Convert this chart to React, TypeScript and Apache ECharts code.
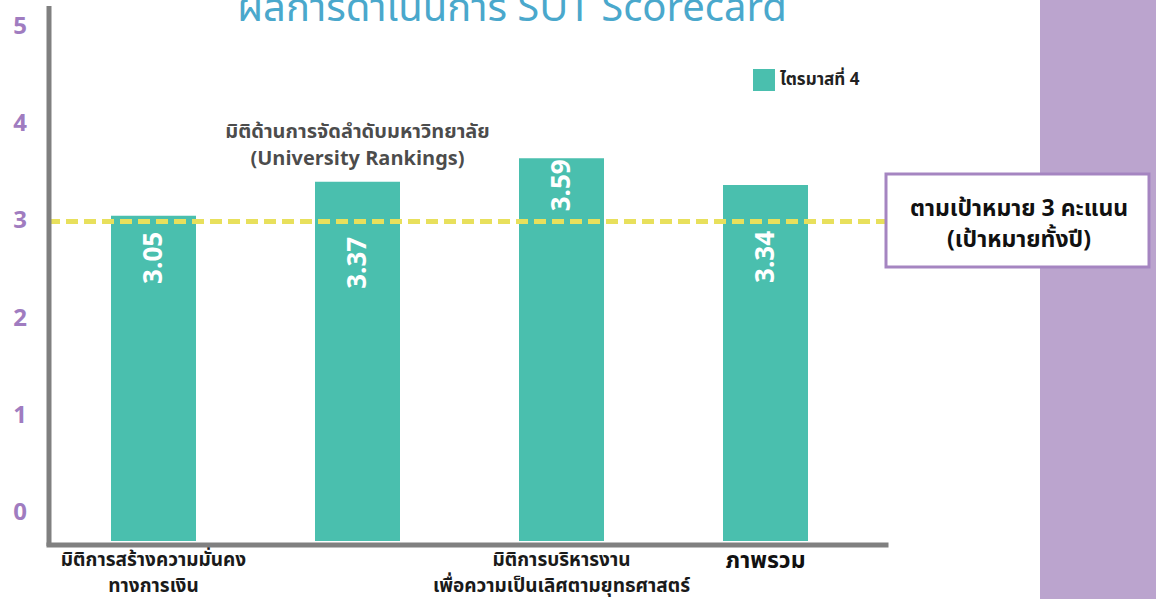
import React, { useEffect, useRef } from "react";
import * as echarts from "echarts";

const categories = [
  "มิติการสร้างความมั่นคง\nทางการเงิน",
  "มิติด้านการจัดลำดับมหาวิทยาลัย\n(University Rankings)",
  "มิติการบริหารงาน\nเพื่อความเป็นเลิศตามยุทธศาสตร์",
  "ภาพรวม",
];
const q4Values = [3.05, 3.37, 3.59, 3.34];
const seriesName = "ไตรมาสที่ 4";
const targetValue = 3;
const yTicks = [0, 1, 2, 3, 4, 5];
const titleText = "ผลการดำเนินการ SUT Scorecard";
const boxLines = ["ตามเป้าหมาย 3 คะแนน", "(เป้าหมายทั้งปี)"];

// layout-only: how far each value label sits below its bar top
const labelDrop = [16, 55, 1, 46];

const FONT = "'Noto Sans Thai', 'Noto Sans', Roboto, sans-serif";
const TEAL = "#4ABFAE";
const PURPLE_TXT = "#A07CC0";

export default function App() {
  const ref = useRef<HTMLDivElement>(null);
  useEffect(() => {
    if (!ref.current) return;
    const chart = echarts.init(ref.current, null, { renderer: "svg" });
    chart.setOption({
      animation: false,
      backgroundColor: "#ffffff",
      textStyle: { fontFamily: FONT },
      legend: {
        data: [seriesName],
        left: 748,
        top: 64,
        icon: "rect",
        itemWidth: 22,
        itemHeight: 22,
        itemGap: 8,
        textStyle: { fontFamily: FONT, fontSize: 17, fontWeight: "bold", color: "#222" },
      },
      grid: [
        { left: 51.5, right: 288.5, top: 8, bottom: 51 },
        { left: 35, width: 10, top: 27, bottom: 86 },
      ],
      xAxis: [
        {
          type: "category",
          gridIndex: 0,
          data: categories,
          axisLine: { show: false },
          axisTick: { show: false },
          axisLabel: {
            margin: 6,
            interval: 0,
            color: "#1a1a1a",
            fontFamily: FONT,
            fontSize: 19,
            fontWeight: "bold",
            lineHeight: 26,
            formatter: (v: string, i: number) => {
              if (i === 1) return "";
              if (i === 3) return "{big|" + v + "}";
              return v;
            },
            rich: {
              big: { fontSize: 23, fontWeight: "bold", color: "#111", fontFamily: FONT, lineHeight: 28 },
            },
          },
        },
        { type: "value", gridIndex: 1, show: false, min: 0, max: 1 },
      ],
      yAxis: [
        { type: "value", gridIndex: 0, min: 0, max: 5, show: false },
        {
          type: "value",
          gridIndex: 1,
          min: yTicks[0],
          max: yTicks[yTicks.length - 1],
          interval: 1,
          axisLine: { show: false },
          axisTick: { show: false },
          splitLine: { show: false },
          axisLabel: {
            margin: 8,
            color: PURPLE_TXT,
            fontFamily: FONT,
            fontSize: 24,
            fontWeight: "bold",
          },
        },
      ],
      series: [
        {
          name: seriesName,
          type: "bar",
          xAxisIndex: 0,
          yAxisIndex: 0,
          barWidth: 85,
          itemStyle: { color: TEAL },
          data: q4Values.map((v, i) => ({
            value: v,
            label: { distance: labelDrop[i] },
          })),
          label: {
            show: true,
            position: "insideTop",
            rotate: 90,
            align: "right",
            verticalAlign: "middle",
            color: "#ffffff",
            fontFamily: FONT,
            fontSize: 26,
            fontWeight: "bold",
            formatter: (p: any) => p.value.toFixed(2),
          },
          markLine: {
            silent: true,
            symbol: "none",
            label: { show: false },
            lineStyle: { color: "#E8E05C", width: 5, type: [12, 6] },
            data: [[{ yAxis: targetValue, x: 48 }, { yAxis: targetValue, x: 895 }]],
            z: 3,
          },
        },
        {
          name: "cat-label",
          type: "scatter",
          xAxisIndex: 0,
          yAxisIndex: 0,
          symbolSize: 0,
          silent: true,
          data: [[1, q4Values[1]]],
          label: {
            show: true,
            position: "top",
            distance: 9,
            formatter: () => categories[1],
            color: "#1a1a1a",
            fontFamily: FONT,
            fontSize: 20,
            fontWeight: "bold",
            lineHeight: 27,
            align: "center",
          },
        },
      ],
      graphic: [
        {
          type: "rect",
          z: 0,
          shape: { x: 1040, y: 0, width: 116, height: 599 },
          style: { fill: "#BBA4CE" },
        },
        {
          type: "text",
          z: 5,
          x: 512,
          y: 29,
          style: {
            text: titleText,
            fill: "#4AA8CC",
            font: "40px " + FONT,
            textAlign: "center",
            textVerticalAlign: "bottom",
          },
        },
        {
          type: "rect",
          z: 10,
          shape: { x: 46.5, y: 6, width: 5, height: 540 },
          style: { fill: "#808080" },
        },
        {
          type: "rect",
          z: 10,
          shape: { x: 46.5, y: 542.5, width: 842, height: 5 },
          style: { fill: "#808080" },
        },
        {
          type: "rect",
          z: 20,
          shape: { x: 886, y: 174, width: 263, height: 93 },
          style: { fill: "#ffffff", stroke: "#A585C1", lineWidth: 3 },
        },
        {
          type: "text",
          z: 21,
          x: 1019,
          y: 209,
          style: {
            text: boxLines[0],
            fill: "#111",
            font: "bold 23px " + FONT,
            textAlign: "center",
            textVerticalAlign: "middle",
          },
        },
        {
          type: "text",
          z: 21,
          x: 1019,
          y: 240,
          style: {
            text: boxLines[1],
            fill: "#111",
            font: "bold 23px " + FONT,
            textAlign: "center",
            textVerticalAlign: "middle",
          },
        },
      ],
    });
    return () => chart.dispose();
  }, []);
  return (
    <div
      ref={ref}
      style={{ position: "fixed", left: 0, top: 0, width: 1156, height: 599 }}
    />
  );
}
